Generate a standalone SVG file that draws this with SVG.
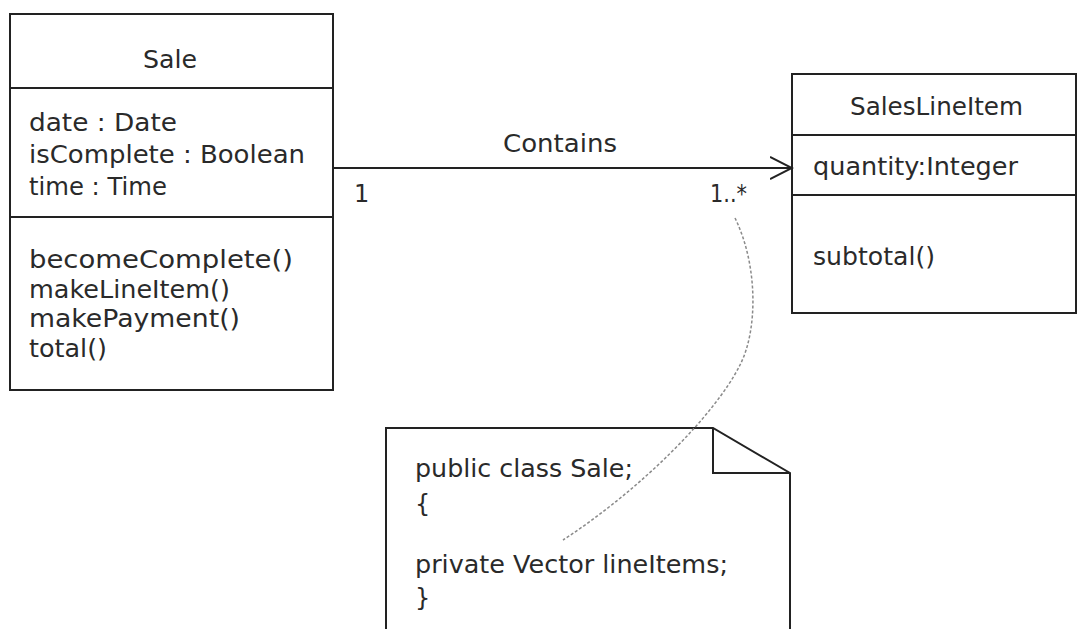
<svg xmlns="http://www.w3.org/2000/svg" width="1080" height="629" viewBox="0 0 1080 629">
  <style>
    .box { fill: none; stroke: #222; stroke-width: 2; }
    .sep { stroke: #222; stroke-width: 2; }
    .t { font-family: "DejaVu Sans", "Liberation Sans", sans-serif; font-size: 24px; fill: #2a2a2a; }
    .mid { text-anchor: middle; }
    .assoc { stroke: #222; stroke-width: 2; fill: none; }
    .anchor { stroke: #8a8a8a; stroke-width: 1.5; fill: none; stroke-dasharray: 3 2; }
  </style>
  <defs>
    <marker id="open" markerWidth="24" markerHeight="26" refX="22" refY="12" orient="auto" markerUnits="userSpaceOnUse">
      <path d="M0,1 L22,12 L0,23" fill="none" stroke="#222" stroke-width="2"/>
    </marker>
  </defs>
  <rect width="1080" height="629" fill="#fff"/>

  <!-- Sale class -->
  <g id="sale">
    <rect class="box" x="10" y="14" width="323" height="376"/>
    <line class="sep" x1="10" y1="88" x2="333" y2="88"/>
    <line class="sep" x1="10" y1="217" x2="333" y2="217"/>
    <text class="t" x="143" y="68" textLength="54" lengthAdjust="spacingAndGlyphs">Sale</text>
    <text class="t" x="29" y="131" textLength="148" lengthAdjust="spacingAndGlyphs">date : Date</text>
    <text class="t" x="29" y="163" textLength="276" lengthAdjust="spacingAndGlyphs">isComplete : Boolean</text>
    <text class="t" x="29" y="195" textLength="138" lengthAdjust="spacingAndGlyphs">time : Time</text>
    <text class="t" x="29" y="268" textLength="264" lengthAdjust="spacingAndGlyphs">becomeComplete()</text>
    <text class="t" x="29" y="298" textLength="201" lengthAdjust="spacingAndGlyphs">makeLineItem()</text>
    <text class="t" x="29" y="327" textLength="211" lengthAdjust="spacingAndGlyphs">makePayment()</text>
    <text class="t" x="29" y="357" textLength="78" lengthAdjust="spacingAndGlyphs">total()</text>
  </g>

  <!-- SalesLineItem class -->
  <g id="salesLineItem">
    <rect class="box" x="792" y="74" width="284" height="239"/>
    <line class="sep" x1="792" y1="135" x2="1076" y2="135"/>
    <line class="sep" x1="792" y1="195" x2="1076" y2="195"/>
    <text class="t" x="850" y="115" textLength="173" lengthAdjust="spacingAndGlyphs">SalesLineItem</text>
    <text class="t" x="813" y="175" textLength="205" lengthAdjust="spacingAndGlyphs">quantity:Integer</text>
    <text class="t" x="813" y="265" textLength="122" lengthAdjust="spacingAndGlyphs">subtotal()</text>
  </g>

  <!-- Code note -->
  <g id="note">
    <path class="box" d="M386,640 L386,428 L713,428 L790,473 L790,640"/>
    <path class="box" d="M713,428 L713,473 L790,473"/>
    <text class="t" x="415" y="477" textLength="218" lengthAdjust="spacingAndGlyphs">public class Sale;</text>
    <text class="t" x="415" y="512">{</text>
    <text class="t" x="415" y="573" textLength="313" lengthAdjust="spacingAndGlyphs">private Vector lineItems;</text>
    <text class="t" x="415" y="606">}</text>
  </g>

  <!-- Connectors -->
  <g id="connectors">
    <line class="assoc" x1="333" y1="168" x2="792" y2="168" marker-end="url(#open)"/>
    <text class="t" x="503" y="152" textLength="114" lengthAdjust="spacingAndGlyphs">Contains</text>
    <text class="t" x="354" y="202">1</text>
    <text class="t" x="710" y="202" textLength="37" lengthAdjust="spacingAndGlyphs">1..*</text>
    <path class="anchor" d="M735,218 C758,265 758,330 740,365 C715,415 640,490 563,540"/>
  </g>
</svg>
